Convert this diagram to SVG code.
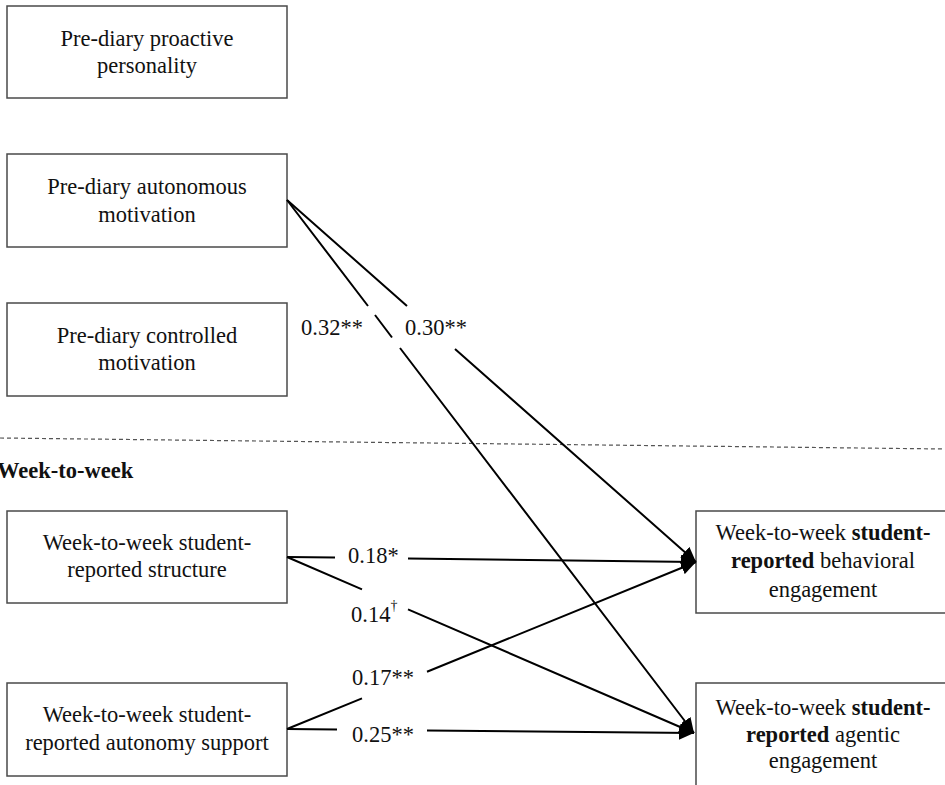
<svg xmlns="http://www.w3.org/2000/svg" width="945" height="785" viewBox="0 0 945 785">
<defs>
<style>
.box{fill:#fff;stroke:#4a4a4a;stroke-width:1.5}
.t{font-family:'Liberation Serif','DejaVu Serif','Noto Serif',serif;font-size:22.5px;fill:#111;text-anchor:middle}
.lbl{font-family:'Liberation Serif','DejaVu Serif','Noto Serif',serif;font-size:22.5px;fill:#111}
.b{font-weight:bold}
.edge{fill:none;stroke:#000;stroke-width:2}
.div{stroke:#555;stroke-width:1.2;stroke-dasharray:4 3;fill:none}
</style>
<marker id="arr" markerUnits="userSpaceOnUse" markerWidth="16" markerHeight="14" refX="15" refY="7" orient="auto">
<path d="M0,0 L15,7 L0,14 Z" fill="#000"/>
</marker>
</defs>
<rect width="945" height="785" fill="#fff"/>

<path class="div" d="M0,438 L945,449"/>
<text class="lbl b" x="-3" y="478" font-size="23">Week-to-week</text>

<g id="n1">
<rect class="box" x="7" y="6" width="280" height="92"/>
<text class="t" x="147" y="46">Pre-diary proactive</text>
<text class="t" x="147" y="73">personality</text>
</g>
<g id="n2">
<rect class="box" x="7" y="154" width="280" height="93"/>
<text class="t" x="147" y="194">Pre-diary autonomous</text>
<text class="t" x="147" y="222">motivation</text>
</g>
<g id="n3">
<rect class="box" x="7" y="303" width="280" height="93"/>
<text class="t" x="147" y="343">Pre-diary controlled</text>
<text class="t" x="147" y="370">motivation</text>
</g>
<g id="n4">
<rect class="box" x="7" y="511" width="280" height="92"/>
<text class="t" x="147" y="550">Week-to-week student-</text>
<text class="t" x="147" y="577">reported structure</text>
</g>
<g id="n5">
<rect class="box" x="7" y="683" width="280" height="93"/>
<text class="t" x="147" y="722">Week-to-week student-</text>
<text class="t" x="147" y="750">reported autonomy support</text>
</g>
<g id="n6">
<rect class="box" x="696" y="511" width="260" height="102"/>
<text class="t" x="823" y="540">Week-to-week <tspan class="b">student-</tspan></text>
<text class="t" x="823" y="568"><tspan class="b">reported</tspan> behavioral</text>
<text class="t" x="823" y="597">engagement</text>
</g>
<g id="n7">
<rect class="box" x="696" y="683" width="260" height="110"/>
<text class="t" x="823" y="715">Week-to-week <tspan class="b">student-</tspan></text>
<text class="t" x="823" y="742"><tspan class="b">reported</tspan> agentic</text>
<text class="t" x="823" y="768">engagement</text>
</g>

<g id="connectors">
<path class="edge" marker-end="url(#arr)" d="M287,200 L407,306 M455,349 L696,562"/>
<path class="edge" marker-end="url(#arr)" d="M287,200 L368,306 M375,315 L392,337.5 M400,348 L694,733"/>
<path class="edge" marker-end="url(#arr)" d="M287,557 L335,557.6 M408,558.5 L696,562"/>
<path class="edge" marker-end="url(#arr)" d="M287,557 L362,589.4 M408,609.3 L694,733"/>
<path class="edge" marker-end="url(#arr)" d="M287,729 L362,698.4 M427,671.8 L696,562"/>
<path class="edge" marker-end="url(#arr)" d="M287,729 L337,729.5 M427,730.5 L694,733"/>
<text class="lbl" x="301" y="335">0.32**</text>
<text class="lbl" x="405" y="335">0.30**</text>
<text class="lbl" x="348" y="563">0.18*</text>
<text class="lbl" x="351" y="622">0.14<tspan font-size="14" dy="-12">†</tspan></text>
<text class="lbl" x="352" y="685">0.17**</text>
<text class="lbl" x="352" y="742">0.25**</text>
</g>
</svg>
